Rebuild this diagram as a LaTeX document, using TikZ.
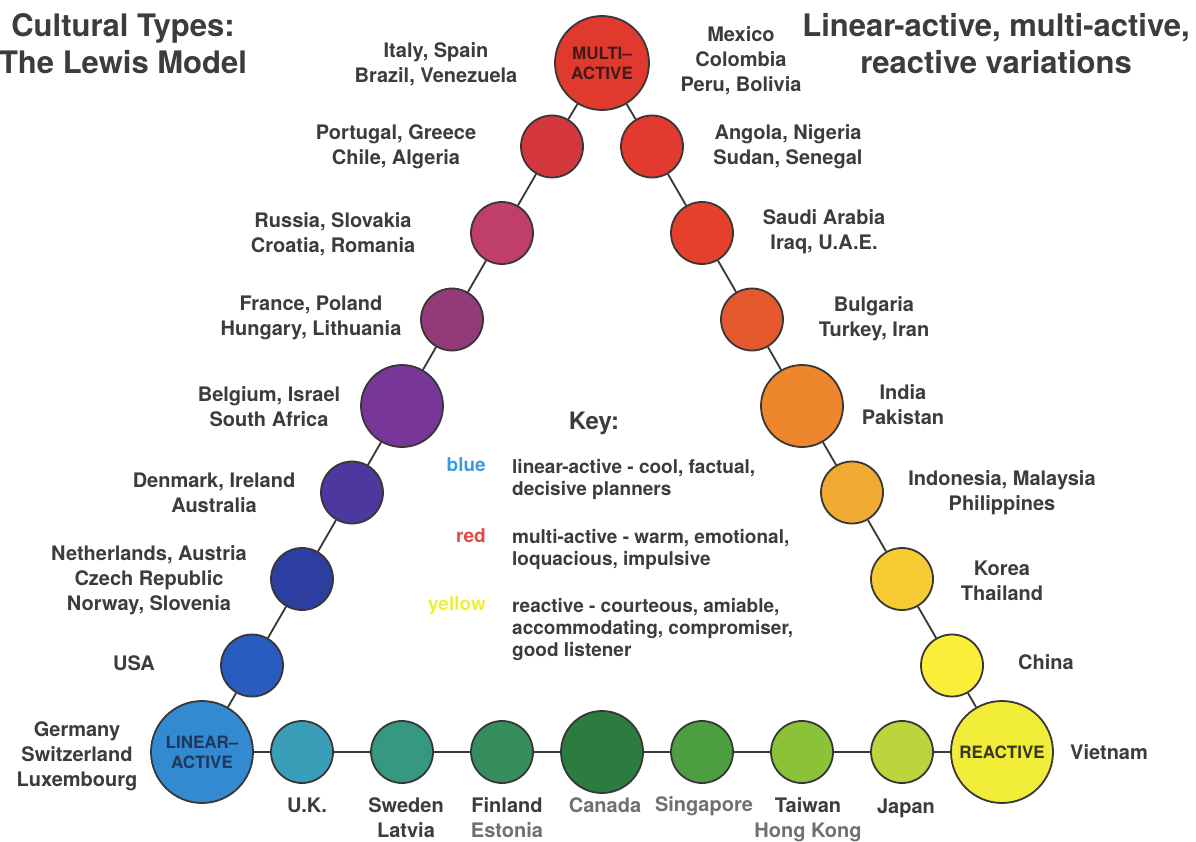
\documentclass[tikz,border=0pt]{standalone}
\usepackage{fontspec}
\setmainfont{TeX Gyre Heros}
\definecolor{labtext}{RGB}{60,60,60}
\definecolor{labgray}{RGB}{112,112,112}
\definecolor{conncol}{RGB}{55,55,55}
\definecolor{cM}{RGB}{224,58,46}
\definecolor{cLa}{RGB}{212,56,62}
\definecolor{cLb}{RGB}{192,62,108}
\definecolor{cLc}{RGB}{146,58,122}
\definecolor{cLd}{RGB}{120,54,152}
\definecolor{cLe}{RGB}{76,56,158}
\definecolor{cLf}{RGB}{44,62,160}
\definecolor{cLg}{RGB}{40,92,190}
\definecolor{cLin}{RGB}{52,138,208}
\definecolor{cBa}{RGB}{58,158,184}
\definecolor{cBb}{RGB}{54,152,128}
\definecolor{cBc}{RGB}{54,142,92}
\definecolor{cBd}{RGB}{44,124,64}
\definecolor{cBe}{RGB}{76,158,64}
\definecolor{cBf}{RGB}{140,194,56}
\definecolor{cBg}{RGB}{190,212,60}
\definecolor{cRea}{RGB}{240,236,56}
\definecolor{cRg}{RGB}{250,238,56}
\definecolor{cRf}{RGB}{246,204,50}
\definecolor{cRe}{RGB}{240,170,50}
\definecolor{cRd}{RGB}{238,134,46}
\definecolor{cRc}{RGB}{230,88,46}
\definecolor{cRb}{RGB}{228,64,44}
\definecolor{cRa}{RGB}{226,58,46}
\definecolor{keyblue}{RGB}{60,155,220}
\definecolor{keyred}{RGB}{232,70,72}
\definecolor{keyyellow}{RGB}{240,238,60}
\begin{document}
\begin{tikzpicture}[x=1pt,y=-1pt,
  ball/.style={circle,draw=conncol,line width=1.8pt,inner sep=0pt,minimum size=62pt},
  midball/.style={ball,minimum size=82pt},
  bigball/.style={ball,minimum size=102pt},
  conn/.style={draw=conncol,line width=1.8pt},
  lab/.style={font=\fontsize{20}{25}\selectfont\bfseries,text=labtext,align=center,inner sep=0pt},
  glab/.style={lab,text=labgray},
  ttl/.style={font=\fontsize{31}{37}\selectfont\bfseries,text=labtext,align=center,inner sep=0pt},
  keyw/.style={font=\fontsize{19}{22}\selectfont\bfseries,inner sep=0pt,anchor=east,text height=14pt,text depth=4pt},
  keyd/.style={font=\fontsize{19}{22}\selectfont\bfseries,text=labtext,align=left,inner sep=0pt,anchor=west},
  inlab/.style={font=\fontsize{17}{20}\selectfont\bfseries,align=center,inner sep=0pt}
]
\useasboundingbox (0,0) rectangle (1196,842);
\fill[white] (0,0) rectangle (1196,842);

% circles
\node[bigball,fill=cM,minimum size=94pt] (m) at (602,63) {};
\node[ball,fill=cLa] (l1) at (552,146.5) {};
\node[ball,fill=cLb] (l2) at (502,233) {};
\node[ball,fill=cLc] (l3) at (452,319.5) {};
\node[midball,fill=cLd] (l4) at (402,406) {};
\node[ball,fill=cLe] (l5) at (352,492.5) {};
\node[ball,fill=cLf] (l6) at (302,579) {};
\node[ball,fill=cLg] (l7) at (252,665.5) {};
\node[bigball,fill=cLin] (lin) at (202,752) {};
\node[ball,fill=cBa] (b1) at (302,752) {};
\node[ball,fill=cBb] (b2) at (402,752) {};
\node[ball,fill=cBc] (b3) at (502,752) {};
\node[midball,fill=cBd] (b4) at (602,752) {};
\node[ball,fill=cBe] (b5) at (702,752) {};
\node[ball,fill=cBf] (b6) at (802,752) {};
\node[ball,fill=cBg] (b7) at (902,752) {};
\node[bigball,fill=cRea] (rea) at (1002,752) {};
\node[ball,fill=cRg] (r7) at (952,665.5) {};
\node[ball,fill=cRf] (r6) at (902,579) {};
\node[ball,fill=cRe] (r5) at (852,492.5) {};
\node[midball,fill=cRd] (r4) at (802,406) {};
\node[ball,fill=cRc] (r3) at (752,319.5) {};
\node[ball,fill=cRb] (r2) at (702,233) {};
\node[ball,fill=cRa] (r1) at (652,146.5) {};

% connectors
\foreach \a/\b in {m/l1,l1/l2,l2/l3,l3/l4,l4/l5,l5/l6,l6/l7,l7/lin,
                   lin/b1,b1/b2,b2/b3,b3/b4,b4/b5,b5/b6,b6/b7,b7/rea,
                   rea/r7,r7/r6,r6/r5,r5/r4,r4/r3,r3/r2,r2/r1,r1/m}
  \draw[conn] (\a) -- (\b);

% circle labels
\node[inlab,text={rgb,255:red,70;green,25;blue,25}] (mt) at (m.center) {MULTI–\\ACTIVE};
\node[inlab,text={rgb,255:red,30;green,55;blue,95}] (lt) at (lin.center) {LINEAR–\\ACTIVE};
\node[inlab,text={rgb,255:red,55;green,55;blue,30}] (rt) at (rea.center) {REACTIVE};

% titles
\node[ttl] (t1) at (123,44) {Cultural Types:\\The Lewis Model};
\node[ttl] (t2) at (996,44) {Linear-active, multi-active,\\reactive variations};

% country labels
\node[lab] (n1) at (436,64) {Italy, Spain\\Brazil, Venezuela};
\node[lab] (n2) at (741,61) {Mexico\\Colombia\\Peru, Bolivia};
\node[lab] (n3) at (396,147) {Portugal, Greece\\Chile, Algeria};
\node[lab] (n4) at (788,147) {Angola, Nigeria\\Sudan, Senegal};
\node[lab] (n5) at (333,234) {Russia, Slovakia\\Croatia, Romania};
\node[lab] (n6) at (824,232) {Saudi Arabia\\Iraq, U.A.E.};
\node[lab] (n7) at (311,318) {France, Poland\\Hungary, Lithuania};
\node[lab] (n8) at (874,319) {Bulgaria\\Turkey, Iran};
\node[lab] (n9) at (269,407) {Belgium, Israel\\South Africa};
\node[lab] (n10) at (903,405) {India\\Pakistan};
\node[lab] (n11) at (214,493) {Denmark, Ireland\\Australia};
\node[lab] (n12) at (1002,493) {Indonesia, Malaysia\\Philippines};
\node[lab] (n13) at (149,580) {Netherlands, Austria\\Czech Republic\\Norway, Slovenia};
\node[lab] (n14) at (1002,581) {Korea\\Thailand};
\node[lab] (n15) at (134,663) {USA};
\node[lab] (n16) at (1046,662) {China};
\node[lab] (n17) at (77,756) {Germany\\Switzerland\\Luxembourg};
\node[lab] (n18) at (1109,752) {Vietnam};
\node[lab] (n19) at (307,805) {U.K.};
\node[lab] (n20) at (406,818) {Sweden\\Latvia};
\node[lab] (n21) at (507,818) {Finland\\\textcolor{labgray}{Estonia}};
\node[glab] (n22) at (605,805) {Canada};
\node[glab] (n23) at (704,806) {Singapore};
\node[lab] (n24) at (808,820) {Taiwan\\\textcolor{labgray}{Hong Kong}};
\node[lab] (n25) at (906,808) {Japan};

% key
\node[font=\fontsize{24}{28}\selectfont\bfseries,text=labtext,inner sep=0pt] (key) at (594,423) {Key:};
\node[keyw,text=keyblue] (kb) at (486,466) {blue};
\node[keyw,text=keyred] (kr) at (486,537) {red};
\node[keyw,text=keyyellow] (ky) at (486,605) {yellow};
\node[keyd] (d1) at (512,479) {linear-active - cool, factual,\\decisive planners};
\node[keyd] (d2) at (512,549) {multi-active - warm, emotional,\\loquacious, impulsive};
\node[keyd] (d3) at (512,629) {reactive - courteous, amiable,\\accommodating, compromiser,\\good listener};
\end{tikzpicture}
\end{document}
